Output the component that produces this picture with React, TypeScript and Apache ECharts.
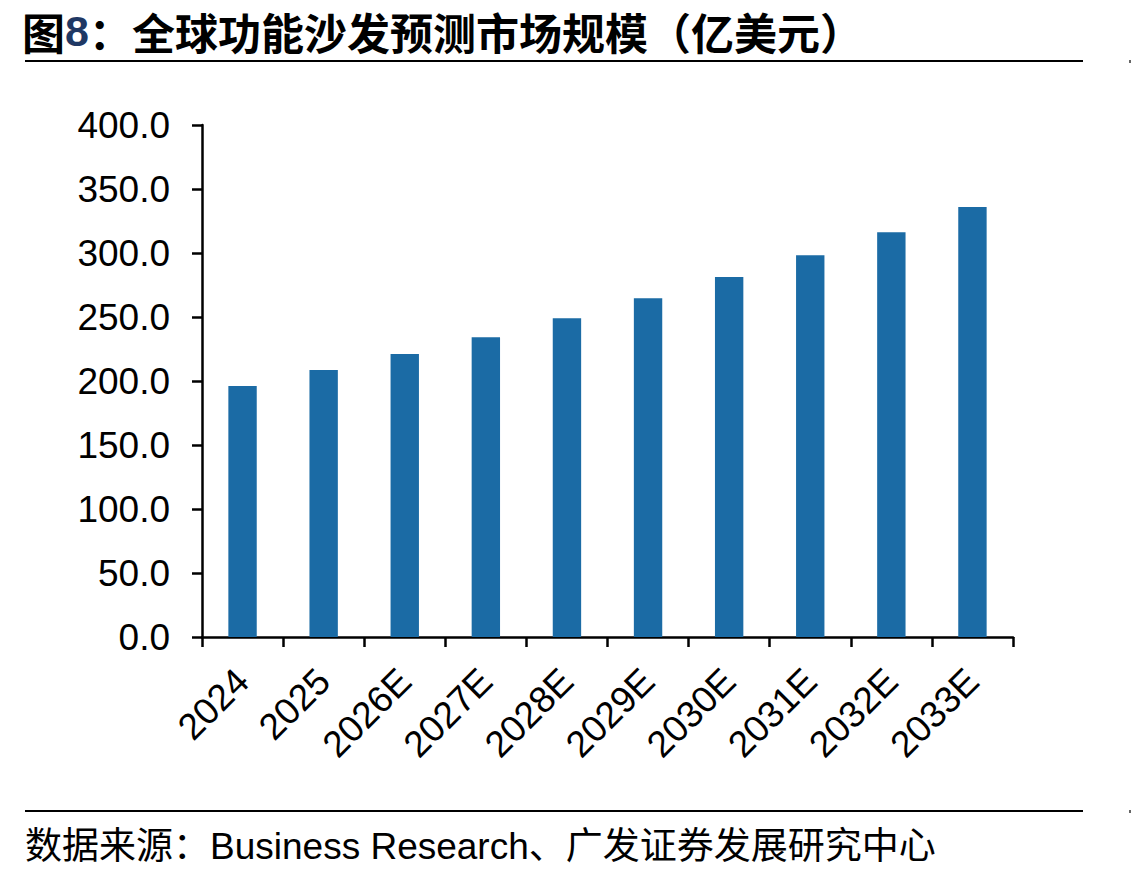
import React, { useEffect, useRef } from "react";
import * as echarts from "echarts";

const categories = ["2024", "2025", "2026E", "2027E", "2028E", "2029E", "2030E", "2031E", "2032E", "2033E"];
const marketSize = [196.1, 208.5, 221.0, 234.2, 249.1, 264.7, 281.3, 298.2, 316.2, 335.9];
const yMin = 0;
const yMax = 400;
const yStep = 50;

const titleText = "全球功能沙发预测市场规模（亿美元）";
const sourceText = "数据来源：Business Research、广发证券发展研究中心";

export default function App() {
  const ref = useRef<HTMLDivElement>(null);

  useEffect(() => {
    if (!ref.current) return;
    const chart = echarts.init(ref.current, null, { renderer: "svg" });
    chart.setOption({
      animation: false,
      backgroundColor: "#ffffff",
      grid: { left: 202, right: 130, top: 125, bottom: 242, containLabel: false },
      xAxis: {
        type: "category",
        data: categories,
        axisLine: { lineStyle: { color: "#000", width: 2.5 } },
        axisTick: { show: true, length: 10, lineStyle: { color: "#000", width: 2.5 } },
        axisLabel: {
          rotate: 45,
          color: "#000",
          fontSize: 37,
          fontFamily: "Liberation Sans, Arial, sans-serif",
          margin: 38,
        },
      },
      yAxis: {
        type: "value",
        min: yMin,
        max: yMax,
        interval: yStep,
        axisLine: { show: true, lineStyle: { color: "#000", width: 2.5 } },
        axisTick: { show: true, length: 10, lineStyle: { color: "#000", width: 2.5 } },
        splitLine: { show: false },
        axisLabel: {
          color: "#000",
          fontSize: 37,
          fontFamily: "Liberation Sans, Arial, sans-serif",
          margin: 32,
          formatter: (v: number) => v.toFixed(1),
        },
      },
      series: [
        {
          type: "bar",
          data: marketSize,
          barWidth: "35%",
          itemStyle: { color: "#1b6ba5" },
        },
      ],
      graphic: [
        {
          type: "text",
          left: 22,
          top: 9,
          style: {
            text: "{a|图}{b|8}{a|：" + titleText + "}",
            rich: {
              a: { fontSize: 43, lineHeight: 46, fontWeight: "bold", fill: "#000", fontFamily: "Noto Sans CJK SC" },
              b: { fontSize: 43, lineHeight: 46, fontWeight: "bold", fill: "#1f3864", fontFamily: "Liberation Sans, Arial" },
            },
          },
        },
        { type: "line", shape: { x1: 25, y1: 61, x2: 1083, y2: 61 }, style: { stroke: "#000", lineWidth: 2 } },
        { type: "rect", shape: { x: 1129, y: 60, width: 2, height: 3 }, style: { fill: "#666" } },
        { type: "line", shape: { x1: 25, y1: 811, x2: 1083, y2: 811 }, style: { stroke: "#000", lineWidth: 2 } },
        { type: "rect", shape: { x: 1129, y: 810, width: 2, height: 3 }, style: { fill: "#666" } },
        {
          type: "text",
          left: 25,
          top: 828,
          style: {
            text: sourceText,
            fontSize: 37,
            fill: "#000",
            fontFamily: "Liberation Sans, Noto Sans CJK SC",
          },
        },
      ],
    });
    return () => chart.dispose();
  }, []);

  return (
    <div
      ref={ref}
      style={{ position: "absolute", left: 0, top: 0, width: 1143, height: 879 }}
    />
  );
}
